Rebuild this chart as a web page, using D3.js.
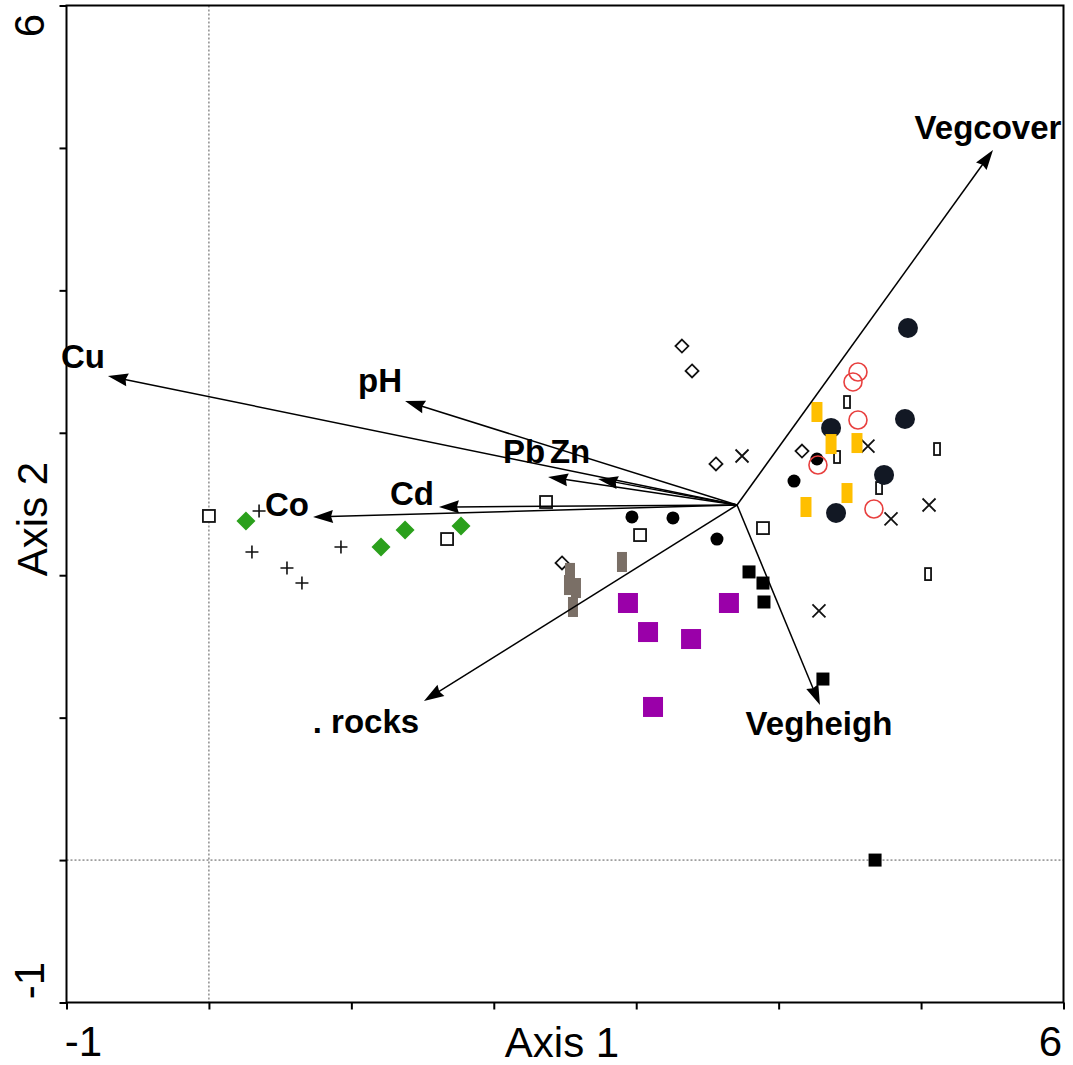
<!DOCTYPE html>
<html>
<head>
<meta charset="utf-8">
<script src="https://cdn.jsdelivr.net/npm/d3@7"></script>
<style>
  html, body { margin: 0; padding: 0; background: #fff; }
  svg { display: block; }
  text { font-family: "Liberation Sans", Arial, sans-serif; }
</style>
</head>
<body>
<script>
// ---- Ordination scores (Axis 1, Axis 2) ----
const openSquares   = [[0.000, 2.416], [2.367, 2.514], [1.672, 2.254], [3.027, 2.282], [3.890, 2.331]];
const greenDiamonds = [[0.260, 2.381], [1.208, 2.198], [1.377, 2.317], [1.770, 2.346]];
const plusSigns     = [[0.352, 2.451], [0.302, 2.163], [0.548, 2.051], [0.653, 1.945], [0.927, 2.198]];
const openDiamonds  = [[3.321, 3.609], [3.392, 3.434], [3.560, 2.781], [4.164, 2.872], [2.479, 2.086]];
const smallDots     = [[2.970, 2.409], [3.258, 2.402], [3.567, 2.254], [4.108, 2.661], [4.269, 2.816]];
const greyBars      = [[2.900, 2.093], [2.535, 2.016], [2.577, 1.910], [2.528, 1.931], [2.556, 1.777]];
const purpleSquares = [[2.942, 1.805], [3.083, 1.601], [3.385, 1.552], [3.651, 1.805], [3.118, 1.075]];
const blackSquares  = [[3.792, 2.023], [3.890, 1.945], [3.897, 1.812], [4.311, 1.271], [4.677, 0.000]];
const crosses       = [[3.743, 2.837], [4.627, 2.907], [4.789, 2.395], [5.056, 2.493], [4.283, 1.749]];
const narrowBoxes   = [[4.480, 3.216], [4.410, 2.830], [4.705, 2.612], [5.112, 2.886], [5.049, 2.008]];
const navyDots      = [[4.908, 3.736], [4.368, 3.034], [4.887, 3.097], [4.740, 2.704], [4.403, 2.437]];
const yellowBars    = [[4.269, 3.146], [4.368, 2.921], [4.550, 2.928], [4.480, 2.577], [4.192, 2.479]];
const redRings      = [[4.557, 3.427], [4.522, 3.357], [4.557, 3.090], [4.276, 2.774], [4.669, 2.465]];

// ---- Environmental vectors ----
const vectorOrigin = [3.708, 2.493];
const vectorNames  = ["Cu", "pH", "Pb", "Zn", "Cd", "Co", ". rocks", "Vegheigh", "Vegcover"];
const vectorX      = [-0.709, 1.377, 2.381, 2.732, 1.615, 0.731, 1.510, 4.290, 5.505];
const vectorY      = [ 3.399, 3.223, 2.690, 2.676, 2.479, 2.409, 1.117, 1.089, 4.985];

// ---- Axes ----
const axisDomain  = [-1, 6];
const tickValues  = [-1, 0, 1, 2, 3, 4, 5, 6];
const tickLabels  = ["-1", "6"];
const axisTitles  = ["Axis 1", "Axis 2"];

const W = 1073, H = 1065;
const svg = d3.select("body").append("svg").attr("width", W).attr("height", H);

const x = d3.scaleLinear().domain(axisDomain).range([66.5, 1063.5]);
const y = d3.scaleLinear().domain(axisDomain).range([1002.5, 5.5]);

// zero reference lines
svg.append("line")
  .attr("x1", x(0)).attr("x2", x(0)).attr("y1", y(6)).attr("y2", y(-1))
  .attr("stroke", "#555").attr("stroke-width", 1).attr("stroke-dasharray", "2,2");
svg.append("line")
  .attr("x1", x(-1)).attr("x2", x(6)).attr("y1", y(0)).attr("y2", y(0))
  .attr("stroke", "#555").attr("stroke-width", 1).attr("stroke-dasharray", "2,2");

// tick marks (labels drawn separately, only at the ends)
const gx = svg.append("g").attr("transform", `translate(0,${y(-1)})`)
  .call(d3.axisBottom(x).tickValues(tickValues).tickSize(7).tickFormat(""));
const gy = svg.append("g").attr("transform", `translate(${x(-1)},0)`)
  .call(d3.axisLeft(y).tickValues(tickValues).tickSize(7).tickFormat(""));
[gx, gy].forEach(g => {
  g.select(".domain").remove();
  g.selectAll(".tick line").attr("stroke", "#000").attr("stroke-width", 2);
});

// frame
svg.append("rect")
  .attr("x", x(-1)).attr("y", y(6))
  .attr("width", x(6) - x(-1)).attr("height", y(-1) - y(6))
  .attr("fill", "none").attr("stroke", "#000").attr("stroke-width", 2);

// end tick labels
const tickFont = 42;
svg.append("text").attr("x", x(-1) + 17).attr("y", 1056)
  .attr("text-anchor", "middle").attr("font-size", tickFont).text(tickLabels[0]);
svg.append("text").attr("x", x(6) - 13).attr("y", 1056)
  .attr("text-anchor", "middle").attr("font-size", tickFont).text(tickLabels[1]);
svg.append("text").attr("transform", `translate(44,${y(-1) - 22}) rotate(-90)`)
  .attr("text-anchor", "middle").attr("font-size", tickFont).text(tickLabels[0]);
svg.append("text").attr("transform", `translate(44,${y(6) + 20}) rotate(-90)`)
  .attr("text-anchor", "middle").attr("font-size", tickFont).text(tickLabels[1]);

// axis titles
svg.append("text").attr("x", 562).attr("y", 1057)
  .attr("text-anchor", "middle").attr("font-size", 42).text(axisTitles[0]);
svg.append("text").attr("transform", `translate(47,519) rotate(-90)`)
  .attr("text-anchor", "middle").attr("font-size", 42).text(axisTitles[1]);

// ---- Sample markers ----
const g = svg.append("g");

function rects(data, w, h, fill, stroke, sw) {
  g.selectAll(null).data(data).enter().append("rect")
    .attr("x", d => x(d[0]) - w / 2).attr("y", d => y(d[1]) - h / 2)
    .attr("width", w).attr("height", h)
    .attr("fill", fill).attr("stroke", stroke || "none").attr("stroke-width", sw || 0);
}
function diamonds(data, r, fill, stroke, sw) {
  g.selectAll(null).data(data).enter().append("path")
    .attr("d", d => {
      const cx = x(d[0]), cy = y(d[1]);
      return `M${cx},${cy - r}L${cx + r},${cy}L${cx},${cy + r}L${cx - r},${cy}Z`;
    })
    .attr("fill", fill).attr("stroke", stroke || "none").attr("stroke-width", sw || 0);
}
function circles(data, r, fill, stroke, sw) {
  g.selectAll(null).data(data).enter().append("circle")
    .attr("cx", d => x(d[0])).attr("cy", d => y(d[1])).attr("r", r)
    .attr("fill", fill).attr("stroke", stroke || "none").attr("stroke-width", sw || 0);
}
function pluses(data, s, sw) {
  g.selectAll(null).data(data).enter().append("path")
    .attr("d", d => {
      const cx = x(d[0]), cy = y(d[1]);
      return `M${cx - s},${cy}H${cx + s}M${cx},${cy - s}V${cy + s}`;
    })
    .attr("stroke", "#111").attr("stroke-width", sw).attr("fill", "none");
}
function crossesDraw(data, s, sw) {
  g.selectAll(null).data(data).enter().append("path")
    .attr("d", d => {
      const cx = x(d[0]), cy = y(d[1]);
      return `M${cx - s},${cy - s}L${cx + s},${cy + s}M${cx - s},${cy + s}L${cx + s},${cy - s}`;
    })
    .attr("stroke", "#111").attr("stroke-width", sw).attr("fill", "none");
}

rects(openSquares, 12, 12, "#fff", "#111", 1.8);
diamonds(greenDiamonds, 9.5, "#2ba01c");
pluses(plusSigns, 6.5, 1.6);
diamonds(openDiamonds, 6.5, "#fff", "#111", 1.8);
circles(smallDots, 6.5, "#000");
rects(greyBars, 10, 20, "#7a6f66");
rects(purpleSquares, 20, 20, "#9a00a9");
rects(blackSquares, 13, 13, "#000");
crossesDraw(crosses, 6.5, 1.8);
rects(narrowBoxes, 6, 12, "#fff", "#111", 1.8);
circles(navyDots, 10, "#121824");
rects(yellowBars, 11, 20, "#ffbf00");
circles(redRings, 9, "none", "#e8403f", 1.6);

// ---- Environmental vectors ----
const labelOffset = [[-25, -8], [-25, -9], [-24, -14], [-28, -16], [-27, -2], [-26, -1], [-58, 32], [-1, 30], [-5, -11]];
const ox = x(vectorOrigin[0]), oy = y(vectorOrigin[1]);
const va = svg.append("g");
vectorNames.forEach((name, i) => {
  const tx = x(vectorX[i]), ty = y(vectorY[i]);
  const dx = tx - ox, dy = ty - oy, len = Math.hypot(dx, dy);
  const ux = dx / len, uy = dy / len;
  const hl = 20, hw = 6.5;
  const bx = tx - ux * hl, by = ty - uy * hl;
  va.append("line").attr("x1", ox).attr("y1", oy).attr("x2", bx + ux * 4).attr("y2", by + uy * 4)
    .attr("stroke", "#000").attr("stroke-width", 1.5);
  va.append("path")
    .attr("d", `M${tx},${ty}L${bx - uy * hw},${by + ux * hw}L${bx + ux * 2},${by + uy * 2}L${bx + uy * hw},${by - ux * hw}Z`)
    .attr("fill", "#000");
  va.append("text")
    .attr("x", tx + labelOffset[i][0]).attr("y", ty + labelOffset[i][1])
    .attr("text-anchor", "middle").attr("font-size", 33).attr("font-weight", "bold")
    .attr("fill", "#000").text(name);
});
</script>
</body>
</html>
